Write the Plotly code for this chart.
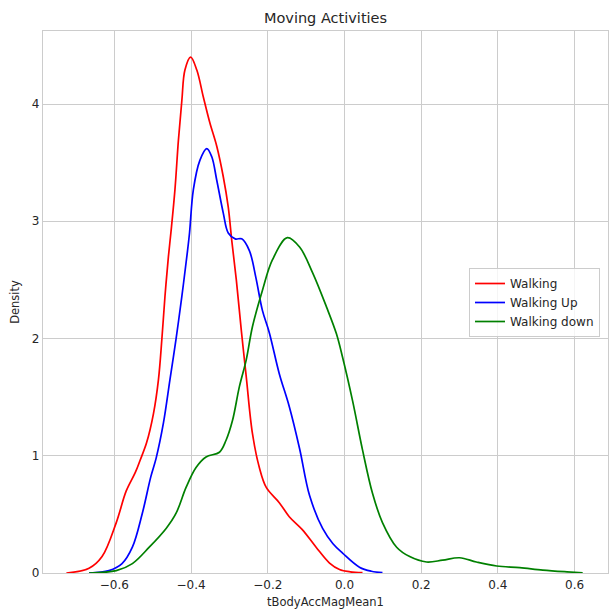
import plotly.graph_objects as go

walk_x = [-0.725, -0.666, -0.632, -0.595, -0.569, -0.545, -0.533, -0.516, -0.498, -0.485, -0.476, -0.468, -0.459,
          -0.452, -0.442, -0.433, -0.424, -0.416, -0.401, -0.385, -0.368, -0.351, -0.333, -0.316, -0.303, -0.294,
          -0.282, -0.269, -0.256, -0.240, -0.222, -0.204, -0.170, -0.144, -0.110, -0.074, -0.039, -0.013, 0.015, 0.047]
walk_y = [0.0, 0.04, 0.14, 0.43, 0.70, 0.86, 0.96, 1.11, 1.36, 1.65, 2.00, 2.36, 2.70,
          2.92, 3.27, 3.69, 4.03, 4.29, 4.40, 4.29, 4.06, 3.84, 3.64, 3.38, 3.12, 2.84,
          2.50, 2.07, 1.67, 1.19, 0.90, 0.73, 0.60, 0.48, 0.37, 0.22, 0.085, 0.03, 0.01, 0.003]

up_x = [-0.666, -0.614, -0.580, -0.553, -0.527, -0.505, -0.491, -0.472, -0.455, -0.439, -0.424, -0.411, -0.404,
        -0.394, -0.377, -0.359, -0.346, -0.333, -0.316, -0.303, -0.285, -0.268, -0.248, -0.231, -0.214, -0.196,
        -0.170, -0.144, -0.117, -0.091, -0.057, -0.030, -0.005, 0.039, 0.070, 0.099]
up_y = [0.0, 0.02, 0.08, 0.22, 0.51, 0.82, 0.98, 1.28, 1.65, 2.00, 2.36, 2.70, 2.90,
        3.27, 3.52, 3.62, 3.55, 3.35, 3.07, 2.90, 2.85, 2.85, 2.75, 2.52, 2.24, 2.05,
        1.70, 1.42, 1.06, 0.66, 0.38, 0.25, 0.17, 0.05, 0.015, 0.003]

down_x = [-0.666, -0.595, -0.553, -0.509, -0.465, -0.439, -0.413, -0.387, -0.361, -0.326, -0.309, -0.292, -0.274,
          -0.256, -0.240, -0.214, -0.188, -0.149, -0.117, -0.083, -0.047, -0.021, -0.005, 0.021, 0.047, 0.073,
          0.099, 0.136, 0.170, 0.214, 0.256, 0.300, 0.344, 0.397, 0.457, 0.517, 0.580, 0.621]
down_y = [0.0, 0.02, 0.08, 0.22, 0.38, 0.51, 0.73, 0.90, 0.99, 1.03, 1.13, 1.30, 1.59,
          1.82, 2.10, 2.41, 2.67, 2.86, 2.78, 2.56, 2.27, 2.04, 1.84, 1.47, 1.05, 0.68,
          0.43, 0.22, 0.14, 0.094, 0.11, 0.13, 0.094, 0.06, 0.045, 0.025, 0.01, 0.002]

series_names = ["Walking", "Walking Up", "Walking down"]
colors = ["red", "blue", "green"]

x_ticks = [-0.6, -0.4, -0.2, 0.0, 0.2, 0.4, 0.6]
y_ticks = [0, 1, 2, 3, 4]

fig = go.Figure()
for name, xs, ys, c in zip(series_names, [walk_x, up_x, down_x], [walk_y, up_y, down_y], colors):
    fig.add_trace(go.Scatter(x=xs, y=ys, mode="lines", name=name,
                             line=dict(color=c, width=1.7, shape="spline", smoothing=1.0)))

font_color = "#262626"
fig.update_layout(
    width=609, height=612,
    margin=dict(l=43, r=1, t=31, b=39),
    paper_bgcolor="white", plot_bgcolor="white",
    font=dict(family="DejaVu Sans", size=12, color=font_color),
    title=dict(text="Moving Activities", x=(43 + 608) / 2 / 609, xanchor="center",
               y=1 - 18 / 612, yanchor="middle", font=dict(size=14.5, color=font_color)),
    xaxis=dict(range=[-0.786, 0.687], tickvals=x_ticks, tickformat=".1f",
               showgrid=True, gridcolor="#cccccc", gridwidth=1, zeroline=False,
               showline=True, linecolor="#cccccc", linewidth=1.2, mirror=True,
               ticks="", ticklen=0, tickfont=dict(size=12),
               title=dict(text="tBodyAccMagMean1", font=dict(size=11.5, color=font_color), standoff=7)),
    yaxis=dict(range=[0, 4.623], tickvals=y_ticks,
               showgrid=True, gridcolor="#cccccc", gridwidth=1, zeroline=False,
               showline=True, linecolor="#cccccc", linewidth=1.2, mirror=True,
               ticks="", ticklen=0, tickfont=dict(size=12),
               title=dict(text="Density", font=dict(size=11.5, color=font_color), standoff=9)),
    legend=dict(x=(469 - 43) / 565, y=(573 - 268) / 542, xanchor="left", yanchor="top",
                bgcolor="rgba(255,255,255,0.8)", bordercolor="#cccccc", borderwidth=1,
                font=dict(size=12, color=font_color), tracegroupgap=0),
    showlegend=True,
)

fig.write_html("out.html")
